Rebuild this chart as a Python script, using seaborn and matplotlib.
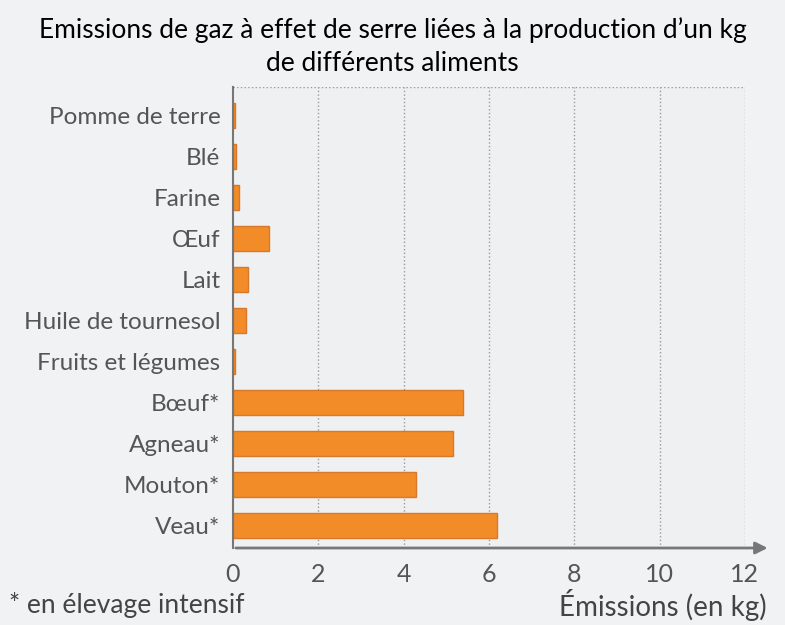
import matplotlib
matplotlib.use("Agg")
import pandas as pd
import matplotlib.pyplot as plt
import seaborn as sns

# Values (kg CO2 eq. per kg of food)
aliments = ['Pomme de terre', 'Blé', 'Farine', 'Œuf', 'Lait', 'Huile de tournesol',
            'Fruits et légumes', 'Bœuf*', 'Agneau*', 'Mouton*', 'Veau*']
emissions = [0.05, 0.06, 0.13, 0.85, 0.35, 0.3, 0.04, 5.4, 5.15, 4.3, 6.2]
x_ticks = [0, 2, 4, 6, 8, 10, 12]

df = pd.DataFrame({'aliment': aliments, 'emissions': emissions})

sns.set_style("white")
plt.rcParams['font.family'] = ['Lato', 'DejaVu Sans']

fig = plt.figure(figsize=(7.85, 6.25), dpi=100)
fig.patch.set_facecolor('#f1f2f4')
ax = fig.add_axes([0.2968, 0.1232, 0.652, 0.7376])
ax.set_facecolor('#eef0f2')

sns.barplot(data=df, y='aliment', x='emissions', orient='h', color='#f28c28',
            width=0.6, edgecolor='#d9772a', linewidth=1, saturation=1, ax=ax)

ax.set_xlim(0, 12)
ax.set_ylim(10.55, -0.7)
ax.set_xticks(x_ticks)
ax.set_xticklabels([str(t) for t in x_ticks], fontsize=18, color='#555555')
ax.tick_params(axis='y', labelsize=17.5, labelcolor='#555555', length=0, pad=9)
ax.tick_params(axis='x', length=6, width=1.5, color='#666666', direction='inout', pad=8)
ax.set_xlabel('')
ax.set_ylabel('')

for t in x_ticks[1:]:
    ax.axvline(t, color='#9a9a9a', linestyle=':', linewidth=1, zorder=0)
ax.axhline(-0.7, color='#9a9a9a', linestyle=':', linewidth=1, zorder=0)

for s in ['top', 'right']:
    ax.spines[s].set_visible(False)
ax.spines['left'].set_color('#777777')
ax.spines['left'].set_linewidth(1.5)
ax.spines['bottom'].set_visible(False)
ax.annotate('', xy=(1.05, 0), xytext=(0, 0), xycoords='axes fraction',
            arrowprops=dict(arrowstyle='-|>', color='#777777', lw=2,
                            mutation_scale=18), annotation_clip=False)

fig.text(0.5, 0.952, "Emissions de gaz à effet de serre liées à la production d’un kg",
         ha='center', va='center', fontsize=19, color='black')
fig.text(0.5, 0.899, "de différents aliments", ha='center', va='center',
         fontsize=19, color='black')
fig.text(0.012, 0.032, "* en élevage intensif", ha='left', va='center',
         fontsize=19, color='#444444')
fig.text(0.977, 0.032, "Émissions (en kg)", ha='right', va='center',
         fontsize=20, color='#444444')

fig.savefig('out.png', dpi=100, facecolor=fig.get_facecolor())
